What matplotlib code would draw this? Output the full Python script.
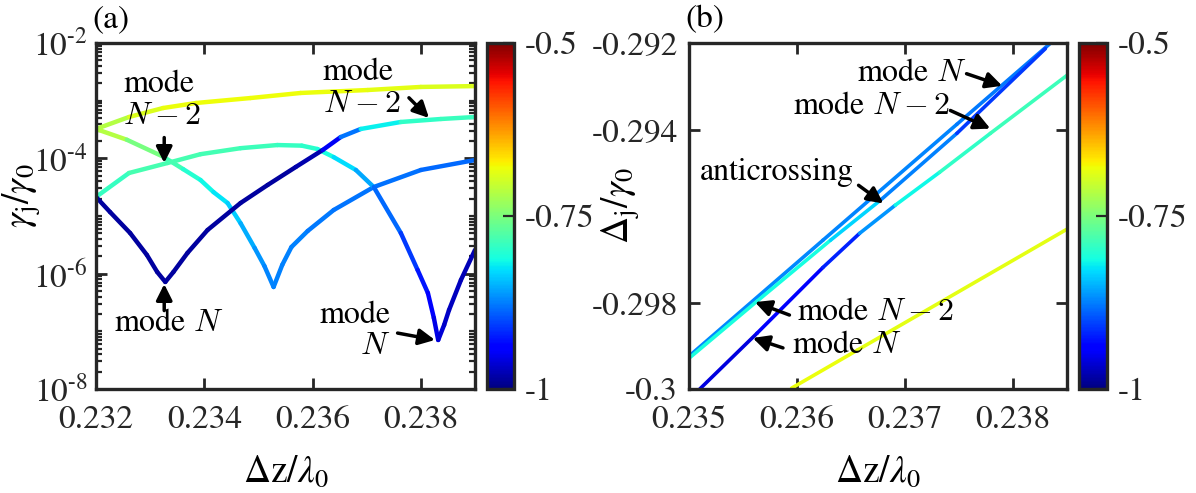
import numpy as np
import matplotlib
matplotlib.use('Agg')
import matplotlib.pyplot as plt
from matplotlib.collections import LineCollection
from matplotlib.colors import Normalize
from matplotlib.cm import ScalarMappable
from matplotlib.ticker import FixedLocator, LogLocator, NullFormatter

# ---- panel (a): decay rates gamma_j / gamma_0 (log scale) ----
a_x = [0.23200, 0.23261, 0.23324, 0.23385, 0.23485, 0.23578, 0.23702, 0.23800, 0.23900]
a_y = [3.23e-4, 5.21e-4, 7.46e-4, 9.12e-4, 1.11e-3, 1.36e-3, 1.53e-3, 1.73e-3, 1.79e-3]
a_c = [-0.73, -0.70, -0.685, -0.68, -0.68, -0.68, -0.685, -0.69, -0.695]

b_x = [0.23200, 0.23257, 0.23324, 0.23361, 0.23393, 0.23417, 0.23443, 0.23467, 0.23493, 0.23511,
       0.23528, 0.23544, 0.23561, 0.23591, 0.23639, 0.23713, 0.23800, 0.23900]
b_y = [3.23e-4, 2.10e-4, 1.07e-4, 6.5e-5, 4.21e-5, 2.6e-5, 1.68e-5, 7.5e-6, 2.79e-6, 1.36e-6,
       5.87e-7, 1.42e-6, 2.90e-6, 5.50e-6, 1.27e-5, 3.18e-5, 6.28e-5, 9.35e-5]
b_c = [-0.70, -0.73, -0.775, -0.795, -0.81, -0.82, -0.83, -0.845, -0.86, -0.87,
       -0.875, -0.875, -0.875, -0.875, -0.88, -0.88, -0.885, -0.885]

c_x = [0.23200, 0.23261, 0.23332, 0.23393, 0.23467, 0.23535, 0.23580, 0.23609, 0.23639, 0.23680,
       0.23713, 0.23763, 0.23794, 0.23813, 0.23824, 0.23832, 0.23843, 0.23852, 0.23874, 0.23900]
c_y = [2.14e-5, 5.57e-5, 8.30e-5, 1.18e-4, 1.50e-4, 1.70e-4, 1.66e-4, 1.45e-4, 1.05e-4, 6.28e-5,
       3.18e-5, 5.07e-6, 1.16e-6, 4.62e-7, 1.71e-7, 7.08e-8, 1.29e-7, 2.34e-7, 7.76e-7, 2.58e-6]
c_c = [-0.80, -0.785, -0.78, -0.785, -0.785, -0.79, -0.795, -0.80, -0.82, -0.84,
       -0.87, -0.90, -0.92, -0.935, -0.95, -0.96, -0.965, -0.97, -0.975, -0.975]

d_x = [0.23200, 0.23226, 0.23263, 0.23294, 0.23313, 0.23328, 0.23343, 0.23369, 0.23406,
       0.23467, 0.23517, 0.23569, 0.23619, 0.23652, 0.23689, 0.23763, 0.23837, 0.23900]
d_y = [2.14e-5, 1.17e-5, 5.07e-6, 2.11e-6, 1.07e-6, 7.18e-7, 1.07e-6, 2.29e-6, 5.71e-6,
       1.68e-5, 3.45e-5, 7.08e-5, 1.40e-4, 2.34e-4, 3.23e-4, 4.27e-4, 4.81e-4, 5.21e-4]
d_c = [-0.985, -0.985, -0.985, -0.985, -0.985, -0.985, -0.985, -0.985, -0.985,
       -0.985, -0.985, -0.985, -0.975, -0.92, -0.84, -0.80, -0.79, -0.79]

# ---- panel (b): detunings Delta_j / gamma_0 ----
p_x = [0.23501, 0.23624, 0.23748, 0.23834]
p_y = [-0.29922, -0.29656, -0.29388, -0.29202]
p_c = [-0.87, -0.87, -0.875, -0.88]

q_x = [0.23500, 0.23563, 0.23631, 0.23677, 0.23748, 0.23830]
q_y = [-0.29929, -0.29797, -0.29656, -0.29564, -0.29409, -0.29213]
q_c = [-0.81, -0.81, -0.815, -0.85, -0.90, -0.92]

r_x = [0.23510, 0.23563, 0.23624, 0.23658, 0.23691, 0.23732, 0.23779, 0.23852]
r_y = [-0.30000, -0.29871, -0.29719, -0.29640, -0.29575, -0.29499, -0.29409, -0.29271]
r_c = [-0.965, -0.95, -0.94, -0.90, -0.83, -0.80, -0.79, -0.785]

y_x = [0.23595, 0.23656, 0.23851]
y_y = [-0.29998, -0.29910, -0.29629]
y_c = [-0.68, -0.685, -0.69]

norm = Normalize(-1, -0.5)
cmap = 'jet'
dark = '#262626'

plt.rcParams['font.family'] = 'STIXGeneral'
plt.rcParams['mathtext.fontset'] = 'stix'
plt.rcParams['font.size'] = 24


def colored_line(ax, x, y, c, lw):
    pts = np.column_stack([x, y])
    segs = np.stack([pts[:-1], pts[1:]], axis=1)
    c = np.asarray(c)
    lc = LineCollection(segs, cmap=cmap, norm=norm, linewidths=lw, capstyle='round', joinstyle='round')
    lc.set_array((c[:-1] + c[1:]) / 2)
    ax.add_collection(lc)


def style_axes(ax):
    for s in ax.spines.values():
        s.set_linewidth(2.4)
        s.set_color(dark)
    ax.tick_params(which='both', direction='in', top=True, right=True, color=dark, labelcolor=dark)
    ax.tick_params(which='major', length=8, width=2)
    ax.tick_params(which='minor', length=4.5, width=1.6)


def add_cbar(cax):
    cb = fig.colorbar(ScalarMappable(norm=norm, cmap=cmap), cax=cax)
    cb.outline.set_linewidth(2.4)
    cb.outline.set_edgecolor(dark)
    cb.set_ticks([-1, -0.75, -0.5])
    cb.set_ticklabels(['-1', '-0.75', '-0.5'])
    cax.tick_params(direction='in', length=8, width=1.6, pad=8, color=dark, labelcolor=dark)


def arrow(ax, tail, tip):
    ax.annotate('', xy=tip, xytext=tail,
                arrowprops=dict(arrowstyle='-|>', color='k', lw=2.5, mutation_scale=24,
                                shrinkA=0, shrinkB=0))


fig = plt.figure(figsize=(11.96, 4.93), dpi=100)
axa = fig.add_axes([96 / 1196, 104 / 493, 379 / 1196, 346 / 493])
caxa = fig.add_axes([487 / 1196, 104 / 493, 27 / 1196, 346 / 493])
axb = fig.add_axes([689 / 1196, 104 / 493, 378 / 1196, 346 / 493])
caxb = fig.add_axes([1079 / 1196, 104 / 493, 28 / 1196, 346 / 493])

# panel (a)
axa.set_yscale('log')
for x, y, c in [(a_x, a_y, a_c), (b_x, b_y, b_c), (c_x, c_y, c_c), (d_x, d_y, d_c)]:
    colored_line(axa, x, y, c, 3.2)
axa.set_xlim(0.232, 0.239)
axa.set_ylim(1e-8, 1e-2)
axa.xaxis.set_major_locator(FixedLocator([0.232, 0.234, 0.236, 0.238]))
axa.set_xticklabels(['0.232', '0.234', '0.236', '0.238'])
axa.yaxis.set_major_locator(FixedLocator([1e-8, 1e-6, 1e-4, 1e-2]))
axa.set_yticklabels([r'10$^{\text{-}8}$', r'10$^{\text{-}6}$', r'10$^{\text{-}4}$', r'10$^{\text{-}2}$'])
axa.yaxis.set_minor_locator(LogLocator(base=10, subs=np.arange(1, 10), numticks=30))
axa.yaxis.set_minor_formatter(NullFormatter())
style_axes(axa)
axa.tick_params(axis='x', pad=12)
axa.tick_params(axis='y', pad=6)
axa.set_xlabel(r'$\Delta\mathrm{z}/\lambda_0$', fontsize=27)
axa.xaxis.set_label_coords(0.5, -0.19)
axa.set_ylabel(r'$\gamma_{\mathrm{j}}/\gamma_0$', fontsize=27)
axa.yaxis.set_label_coords(-0.14, 0.56)

fs = 23
axa.text(0.23250, 10 ** -2.99, 'mode\n$N-2$', ha='left', va='center', math_fontfamily='cm',
         linespacing=1.1, fontsize=fs)
arrow(axa, (0.23326, 10 ** -3.64), (0.23326, 10 ** -4.08))
axa.text(0.23335, 10 ** -6.86, 'mode $N$', ha='center', va='center', math_fontfamily='cm', fontsize=fs)
arrow(axa, (0.23326, 10 ** -6.64), (0.23326, 10 ** -6.18))
axa.text(0.23619, 10 ** -2.78, 'mode\n$N-2$', ha='left', va='center', math_fontfamily='cm',
         linespacing=1.1, fontsize=fs)
arrow(axa, (0.23778, 10 ** -2.95), (0.23815, 10 ** -3.30))
axa.text(0.23744, 10 ** -6.99, 'mode\n$N$', ha='right', va='center', math_fontfamily='cm',
         linespacing=1.1, multialignment='right', fontsize=fs)
arrow(axa, (0.23757, 10 ** -7.03), (0.23826, 10 ** -7.15))

# panel (b)
for x, y, c in [(y_x, y_y, y_c), (p_x, p_y, p_c), (q_x, q_y, q_c), (r_x, r_y, r_c)]:
    colored_line(axb, x, y, c, 2.6)
axb.set_xlim(0.235, 0.2385)
axb.set_ylim(-0.3, -0.292)
axb.xaxis.set_major_locator(FixedLocator([0.235, 0.236, 0.237, 0.238]))
axb.set_xticklabels(['0.235', '0.236', '0.237', '0.238'])
axb.yaxis.set_major_locator(FixedLocator([-0.3, -0.298, -0.294, -0.292]))
axb.set_yticklabels(['-0.3', '-0.298', '-0.294', '-0.292'])
style_axes(axb)
axb.tick_params(axis='x', pad=12)
axb.tick_params(axis='y', pad=8)
axb.set_xlabel(r'$\Delta\mathrm{z}/\lambda_0$', fontsize=27)
axb.xaxis.set_label_coords(0.5, -0.19)
axb.set_ylabel(r'$\Delta_{\mathrm{j}}/\gamma_0$', fontsize=27)
axb.yaxis.set_label_coords(-0.125, 0.53)

axb.text(0.23757, -0.29269, 'mode $N$', ha='right', va='center', math_fontfamily='cm', fontsize=fs)
arrow(axb, (0.23757, -0.29271), (0.23790, -0.29299))
axb.text(0.23742, -0.29347, 'mode $N-2$', ha='right', va='center', math_fontfamily='cm', fontsize=fs)
arrow(axb, (0.23742, -0.29356), (0.23779, -0.29398))
axb.text(0.23510, -0.29499, 'anticrossing', ha='left', va='center', fontsize=fs)
arrow(axb, (0.23657, -0.29529), (0.23680, -0.29571))
axb.text(0.23600, -0.29822, 'mode $N-2$', ha='left', va='center', math_fontfamily='cm', fontsize=fs)
arrow(axb, (0.23593, -0.29829), (0.23561, -0.29799))
axb.text(0.23595, -0.29899, 'mode $N$', ha='left', va='center', math_fontfamily='cm', fontsize=fs)
arrow(axb, (0.23587, -0.29905), (0.23559, -0.29882))

add_cbar(caxa)
add_cbar(caxb)

fig.text(92 / 1196, 1 - 20 / 493, '(a)', ha='left', va='center', fontsize=24)
fig.text(685 / 1196, 1 - 20 / 493, '(b)', ha='left', va='center', fontsize=24)

fig.savefig('out.png', dpi=100)
